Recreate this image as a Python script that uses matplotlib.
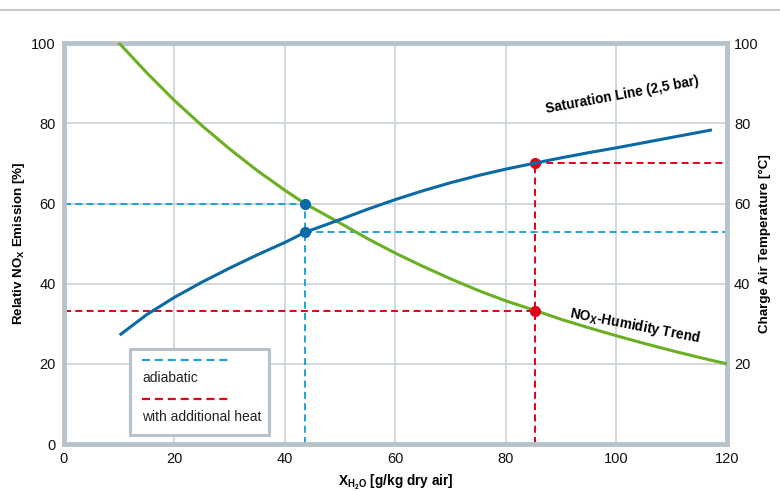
import matplotlib
matplotlib.use("Agg")
import matplotlib.pyplot as plt
from matplotlib.lines import Line2D
from matplotlib.patches import Rectangle

plt.rcParams['font.family'] = ['Liberation Sans', 'DejaVu Sans']
plt.rcParams['mathtext.fontset'] = 'custom'
plt.rcParams['mathtext.rm'] = 'Liberation Sans:bold'
plt.rcParams['mathtext.it'] = 'Liberation Sans:bold'
plt.rcParams['mathtext.bf'] = 'Liberation Sans:bold'

# NOx-humidity trend (left axis, %)
nox_x = [10, 15, 20, 25, 30, 35, 40, 43.6, 50, 55, 60, 65, 70, 75, 80, 85.3, 90, 95, 100, 105, 110, 115, 120]
nox_y = [100, 92.6, 85.7, 79.4, 73.6, 68.2, 63.3, 60, 55.1, 51.2, 47.6, 44.3, 41.2, 38.3, 35.7, 33.3, 31.1, 29.0, 27.0, 25.1, 23.3, 21.6, 20.0]

# Saturation line (right axis, °C)
sat_x = [10.3, 15, 20, 25, 30, 35, 40, 43.6, 50, 55, 60, 65, 70, 75, 80, 85.3, 90, 95, 100, 105, 110, 117]
sat_y = [27.4, 32.3, 36.6, 40.4, 43.9, 47.2, 50.3, 52.8, 56.0, 58.6, 61.0, 63.2, 65.2, 67.0, 68.6, 70.1, 71.4, 72.7, 73.9, 75.2, 76.5, 78.3]

# Operating points
adiab_x = 43.6
adiab_nox = 60
adiab_temp = 52.8
heat_x = 85.3
heat_nox = 33.3
heat_temp = 70.1

xticks = [0, 20, 40, 60, 80, 100, 120]
yticks_left = [0, 20, 40, 60, 80, 100]
yticks_right = [20, 40, 60, 80, 100]

green = '#6ab023'
blue = '#0a6aa6'
lblue = '#1fa3e0'
red = '#e3001b'
frame = '#b7c2ca'
gridc = '#c9d1d7'

fig = plt.figure(figsize=(7.8, 4.91), dpi=100)
ax = fig.add_axes([0.082, 0.0957, 0.85, 0.8163])
ax.set_xlim(0, 120)
ax.set_ylim(0, 100)
ax.set_xticks(xticks)
ax.set_yticks(yticks_left)
ax.grid(True, color=gridc, lw=1.2)
ax.set_axisbelow(True)
for s in ax.spines.values():
    s.set_color(frame)
    s.set_linewidth(3.5)
ax.tick_params(length=0, labelsize=10.5, pad=6, colors='#111111')

ax2 = ax.twinx()
ax2.set_ylim(0, 100)
ax2.set_yticks(yticks_right)
ax2.tick_params(length=0, labelsize=10.5, pad=5, colors='#111111')
for s in ax2.spines.values():
    s.set_visible(False)

# dashed guide lines
dash = dict(lw=1.4, dashes=(3.6, 2.2))
ax.plot([0, adiab_x], [adiab_nox, adiab_nox], color=lblue, **dash)
ax.plot([adiab_x, adiab_x], [0, adiab_nox], color=lblue, **dash)
ax.plot([adiab_x, 120], [adiab_temp, adiab_temp], color=lblue, **dash)
ax.plot([0, heat_x], [heat_nox, heat_nox], color=red, **dash)
ax.plot([heat_x, heat_x], [0, heat_temp], color=red, **dash)
ax.plot([heat_x, 120], [heat_temp, heat_temp], color=red, **dash)

ax.plot(nox_x, nox_y, color=green, lw=2.2, zorder=4, solid_joinstyle='round')
ax2.plot(sat_x, sat_y, color=blue, lw=2.2, zorder=4, solid_joinstyle='round')

ax.plot([adiab_x, adiab_x], [adiab_nox, adiab_temp], 'o', color=blue, ms=7, zorder=6, clip_on=False)
ax.plot([heat_x, heat_x], [heat_temp, heat_nox], 'o', color=red, ms=7, zorder=6, clip_on=False)

ax.set_xlabel(r'X$_{\mathrm{H_2O}}$ [g/kg dry air]', fontsize=9.8, fontweight='bold', labelpad=5)
ax.set_ylabel(r'Relativ NO$_\mathrm{X}$ Emission [%]', fontsize=9.6, fontweight='bold', va='center')
ax.yaxis.set_label_coords(-0.068, 0.5)
ax2.set_ylabel('Charge Air Temperature [°C]', fontsize=9.6, fontweight='bold', va='center', rotation=90)
ax2.yaxis.set_label_coords(1.058, 0.5)

ax.text(101, 87, 'Saturation Line (2,5 bar)', rotation=10.5, fontsize=9.8, fontweight='bold',
        ha='center', va='center', zorder=7)
ax.text(103.3, 29.5, r'NO$_\mathrm{X}$-Humidity Trend', rotation=-11, fontsize=9.8, fontweight='bold',
        ha='center', va='center', zorder=7)

# legend box
ax.add_patch(Rectangle((0.1, 0.023), 0.21, 0.215, transform=ax.transAxes,
                       facecolor='white', edgecolor=frame, lw=2.2, zorder=8))
ax.plot([0.118, 0.25], [0.21, 0.21], transform=ax.transAxes, color=lblue, lw=1.6,
        dashes=(3.6, 2.2), zorder=9)
ax.text(0.118, 0.165, 'adiabatic', transform=ax.transAxes, fontsize=10, va='center', zorder=9, color='#222222')
ax.plot([0.118, 0.25], [0.113, 0.113], transform=ax.transAxes, color=red, lw=1.6,
        dashes=(3.6, 2.2), zorder=9)
ax.text(0.118, 0.068, 'with additional heat', transform=ax.transAxes, fontsize=10, va='center', zorder=9, color='#222222')

fig.add_artist(Line2D([0, 1], [1 - 10 / 491, 1 - 10 / 491], transform=fig.transFigure, color='#c3cbd1', lw=1.5))

fig.savefig('out.png', dpi=100)
